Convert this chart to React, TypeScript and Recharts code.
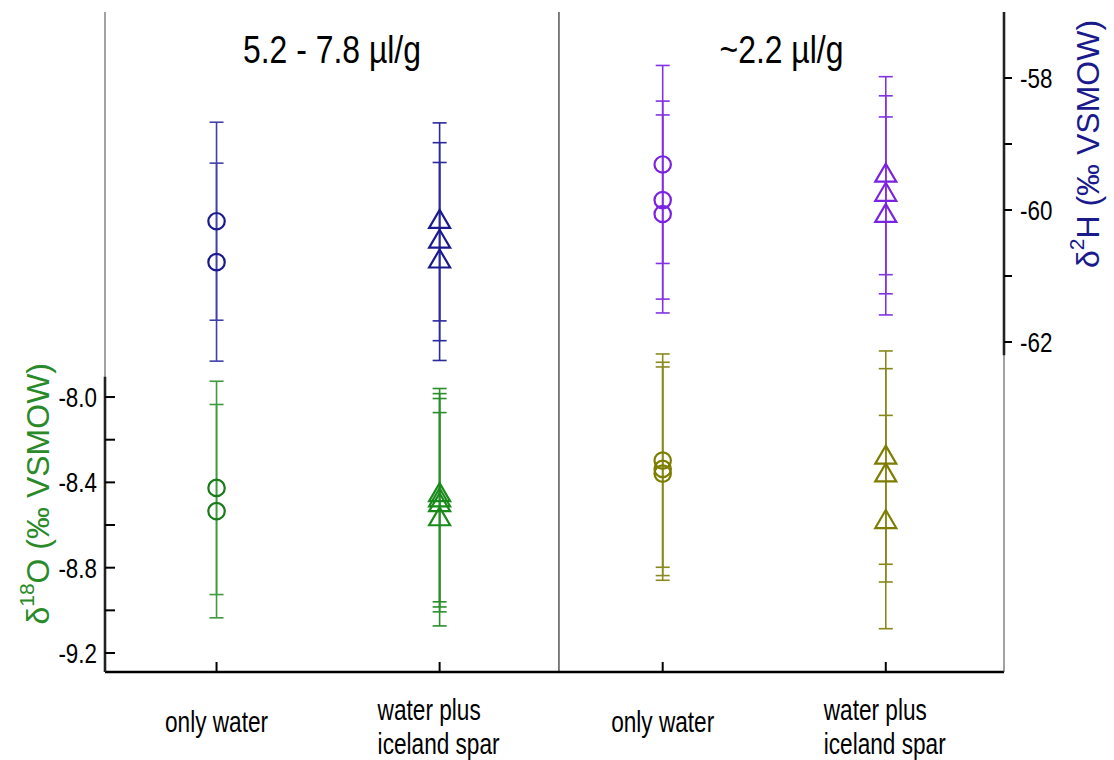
import React from 'react';
import {
  ComposedChart,
  Scatter,
  XAxis,
  YAxis,
  ErrorBar,
  ReferenceLine,
  ReferenceArea,
} from 'recharts';

// Sample groups along the category axis
const categoryPositions = [1, 2, 3, 4];
const categoryLabels = [
  ['only water'],
  ['water plus', 'iceland spar'],
  ['only water'],
  ['water plus', 'iceland spar'],
];
const groupTitles = ['5.2 - 7.8 µl/g', '~2.2 µl/g'];
const groupDivider = 2.535;

// δ18O replicates (‰ VSMOW), left axis
const o18OnlyWaterHigh = [-8.426, -8.535];
const o18SparHigh = [-8.46, -8.484, -8.507, -8.573];
const o18OnlyWaterLow = [-8.298, -8.337, -8.359];
const o18SparLow = [-8.284, -8.367, -8.586];
const o18Error = 0.5;

// δ2H replicates (‰ VSMOW), right axis
const h2OnlyWaterHigh = [-60.17, -60.79];
const h2SparHigh = [-60.18, -60.48, -60.78];
const h2OnlyWaterLow = [-59.31, -59.85, -60.06];
const h2SparLow = [-59.48, -59.77, -60.09];
const h2Error = 1.5;

const o18Domain = [-9.289, -6.195];
const h2Domain = [-67, -57];
const xDomain = [0.5, 4.53];
const o18Ticks = [-9.2, -9.0, -8.8, -8.6, -8.4, -8.2, -8.0];
const o18Labelled = [-9.2, -8.8, -8.4, -8.0];
const h2Ticks = [-62, -61, -60, -59, -58];
const h2Labelled = [-62, -60, -58];
const o18AxisTop = -7.905;
const h2AxisBottom = -62.2;

const SANS = '"Liberation Sans", Arial, sans-serif';

const toPoints = (x: number, values: number[], err: number) =>
  values.map((y) => ({ x, y, e: err }));

// Condensed text: the sans face squeezed horizontally
const CText = ({ x, y, anchor = 'start', size, sx = 0.8, fill = '#000', children }: any) => (
  <text
    transform={`translate(${x},${y}) scale(${sx},1)`}
    x={0}
    y={0}
    textAnchor={anchor}
    fontSize={size}
    fontFamily={SANS}
    fill={fill}
  >
    {children}
  </text>
);

const circleShape = (color: string) => (props: any) => (
  <circle cx={props.cx} cy={props.cy} r={8.2} fill="none" stroke={color} strokeWidth={2.2} />
);

const triangleShape = (color: string) => (props: any) => {
  const { cx, cy } = props;
  return (
    <path
      d={`M${cx},${cy - 12} L${cx + 10.5},${cy + 6} L${cx - 10.5},${cy + 6} Z`}
      fill="none"
      stroke={color}
      strokeWidth={2.2}
    />
  );
};

const series = [
  { key: 'o1', axis: 'o', data: toPoints(1, o18OnlyWaterHigh, o18Error), mark: 'circle', color: '#1b7a1b', bar: '#3f9a3f' },
  { key: 'o2', axis: 'o', data: toPoints(2, o18SparHigh, o18Error), mark: 'triangle', color: '#1a8a1a', bar: '#2a8e2a' },
  { key: 'o3', axis: 'o', data: toPoints(3, o18OnlyWaterLow, o18Error), mark: 'circle', color: '#7d7d00', bar: '#8a8a20' },
  { key: 'o4', axis: 'o', data: toPoints(4, o18SparLow, o18Error), mark: 'triangle', color: '#7d7d00', bar: '#87871a' },
  { key: 'h1', axis: 'h', data: toPoints(1, h2OnlyWaterHigh, h2Error), mark: 'circle', color: '#1a1a8e', bar: '#4040aa' },
  { key: 'h2', axis: 'h', data: toPoints(2, h2SparHigh, h2Error), mark: 'triangle', color: '#1a1a8e', bar: '#2a2a9e' },
  { key: 'h3', axis: 'h', data: toPoints(3, h2OnlyWaterLow, h2Error), mark: 'circle', color: '#7a22e0', bar: '#8232e4' },
  { key: 'h4', axis: 'h', data: toPoints(4, h2SparLow, h2Error), mark: 'triangle', color: '#7a22e0', bar: '#8232e4' },
];

const BottomTick = (props: any) => {
  const { x, y, index } = props;
  const lines = categoryLabels[index] ?? [];
  return (
    <g>
      <line x1={x} y1={y} x2={x} y2={y - 10} stroke="#000" strokeWidth={2} />
      {lines.length === 1 ? (
        <CText x={x} y={y + 60} anchor="middle" size={29} sx={0.78}>
          {lines[0]}
        </CText>
      ) : (
        lines.map((t: string, i: number) => (
          <CText key={i} x={x - 62} y={y + 48 + i * 34} anchor="start" size={29} sx={0.78}>
            {t}
          </CText>
        ))
      )}
    </g>
  );
};

const TopTick = (props: any) => {
  const { x, y } = props;
  return <line x1={x} y1={y} x2={x} y2={y + 10} stroke="#000" strokeWidth={2} />;
};

const LeftTick = (props: any) => {
  const { x, y, payload } = props;
  const v = payload.value;
  const show = o18Labelled.some((t) => Math.abs(t - v) < 1e-6);
  return (
    <g>
      <line x1={x} y1={y} x2={x + 10} y2={y} stroke="#000" strokeWidth={2} />
      {show && (
        <CText x={x - 8} y={y + 10} anchor="end" size={28} sx={0.8}>
          {v.toFixed(1)}
        </CText>
      )}
    </g>
  );
};

const RightTick = (props: any) => {
  const { x, y, payload } = props;
  const v = payload.value;
  const show = h2Labelled.some((t) => Math.abs(t - v) < 1e-6);
  return (
    <g>
      <line x1={x} y1={y} x2={x + 8} y2={y} stroke="#000" strokeWidth={2} />
      {show && (
        <CText x={x + 16} y={y + 10} anchor="start" size={28} sx={0.8}>
          {String(v)}
        </CText>
      )}
    </g>
  );
};

const GroupTitle = (props: any) => {
  const vb = props.viewBox ?? { x: 0, y: 12, width: 0, height: 0 };
  return (
    <CText x={vb.x + vb.width / 2} y={vb.y + 51} anchor="middle" size={38} sx={0.84}>
      {props.text}
    </CText>
  );
};

const LeftTitle = (props: any) => {
  const vb = props.viewBox ?? { x: 0, y: 12, width: 105, height: 660 };
  const cx = vb.x + 38;
  const cy = vb.y + vb.height * 0.73;
  return (
    <text
      transform={`translate(${cx},${cy}) rotate(-90)`}
      textAnchor="middle"
      dominantBaseline="central"
      fontSize={32}
      fontFamily={SANS}
      fill="#2a8a2a"
    >
      δ<tspan fontSize={21} dy={-12}>18</tspan>
      <tspan dy={12}>O (‰ VSMOW)</tspan>
    </text>
  );
};

const RightTitle = (props: any) => {
  const vb = props.viewBox ?? { x: 1004, y: 12, width: 110, height: 660 };
  const cx = vb.x + 84;
  const cy = vb.y + 132;
  return (
    <text
      transform={`translate(${cx},${cy}) rotate(-90)`}
      textAnchor="middle"
      dominantBaseline="central"
      fontSize={32}
      fontFamily={SANS}
      fill="#1a1a8c"
    >
      δ<tspan fontSize={21} dy={-12}>2</tspan>
      <tspan dy={12}>H (‰ VSMOW)</tspan>
    </text>
  );
};

export default function App() {
  return (
    <div style={{ position: 'absolute', left: 0, top: 0, background: '#fff' }}>
      <ComposedChart
        width={1114}
        height={760}
        margin={{ top: 12, right: 0, bottom: 0, left: 0 }}
        style={{ fontFamily: SANS }}
      >
        <XAxis
          xAxisId={0}
          dataKey="x"
          type="number"
          domain={xDomain}
          ticks={categoryPositions}
          allowDataOverflow
          height={88}
          tickSize={0}
          tickMargin={0}
          tickLine={false}
          axisLine={{ stroke: '#000', strokeWidth: 2.5 }}
          tick={<BottomTick />}
          interval={0}
        />
        <XAxis
          xAxisId="top"
          orientation="top"
          dataKey="x"
          type="number"
          domain={xDomain}
          ticks={categoryPositions}
          allowDataOverflow
          height={0}
          tickSize={0}
          tickMargin={0}
          tickLine={false}
          axisLine={{ stroke: '#000', strokeWidth: 2.5 }}
          tick={<TopTick />}
          interval={0}
        />
        <YAxis
          yAxisId="o"
          orientation="left"
          dataKey="y"
          type="number"
          domain={o18Domain}
          ticks={o18Ticks}
          allowDataOverflow
          width={105}
          tickSize={0}
          tickMargin={0}
          tickLine={false}
          axisLine={{ stroke: '#444', strokeWidth: 1 }}
          tick={<LeftTick />}
          interval={0}
          label={(p: any) => <LeftTitle {...p} />}
        />
        <YAxis
          yAxisId="h"
          orientation="right"
          dataKey="y"
          type="number"
          domain={h2Domain}
          ticks={h2Ticks}
          allowDataOverflow
          width={110}
          tickSize={0}
          tickMargin={0}
          tickLine={false}
          axisLine={{ stroke: '#444', strokeWidth: 1 }}
          tick={<RightTick />}
          interval={0}
          label={(p: any) => <RightTitle {...p} />}
        />

        {/* Group headers */}
        <ReferenceArea
          x1={xDomain[0]}
          x2={groupDivider}
          yAxisId="o"
          fill="none"
          stroke="none"
          ifOverflow="visible"
          label={<GroupTitle text={groupTitles[0]} />}
        />
        <ReferenceArea
          x1={groupDivider}
          x2={xDomain[1]}
          yAxisId="o"
          fill="none"
          stroke="none"
          ifOverflow="visible"
          label={<GroupTitle text={groupTitles[1]} />}
        />

        {/* Divider between concentration groups */}
        <ReferenceLine x={groupDivider} yAxisId="o" stroke="#000" strokeWidth={1} ifOverflow="visible" />

        {/* Heavy spines over the ticked ranges */}
        <ReferenceLine
          yAxisId="o"
          ifOverflow="visible"
          segment={[{ x: xDomain[0], y: o18Domain[0] }, { x: xDomain[0], y: o18AxisTop }]}
          stroke="#000"
          strokeWidth={2.5}
        />
        <ReferenceLine
          yAxisId="h"
          ifOverflow="visible"
          segment={[{ x: xDomain[1], y: h2Domain[1] }, { x: xDomain[1], y: h2AxisBottom }]}
          stroke="#000"
          strokeWidth={2.5}
        />

        {series.map((s) => (
          <Scatter
            key={s.key}
            yAxisId={s.axis}
            data={s.data}
            dataKey="y"
            isAnimationActive={false}
            shape={s.mark === 'circle' ? circleShape(s.color) : triangleShape(s.color)}
          >
            <ErrorBar dataKey="e" direction="y" width={7} stroke={s.bar} strokeWidth={1.6} />
          </Scatter>
        ))}
      </ComposedChart>
    </div>
  );
}
